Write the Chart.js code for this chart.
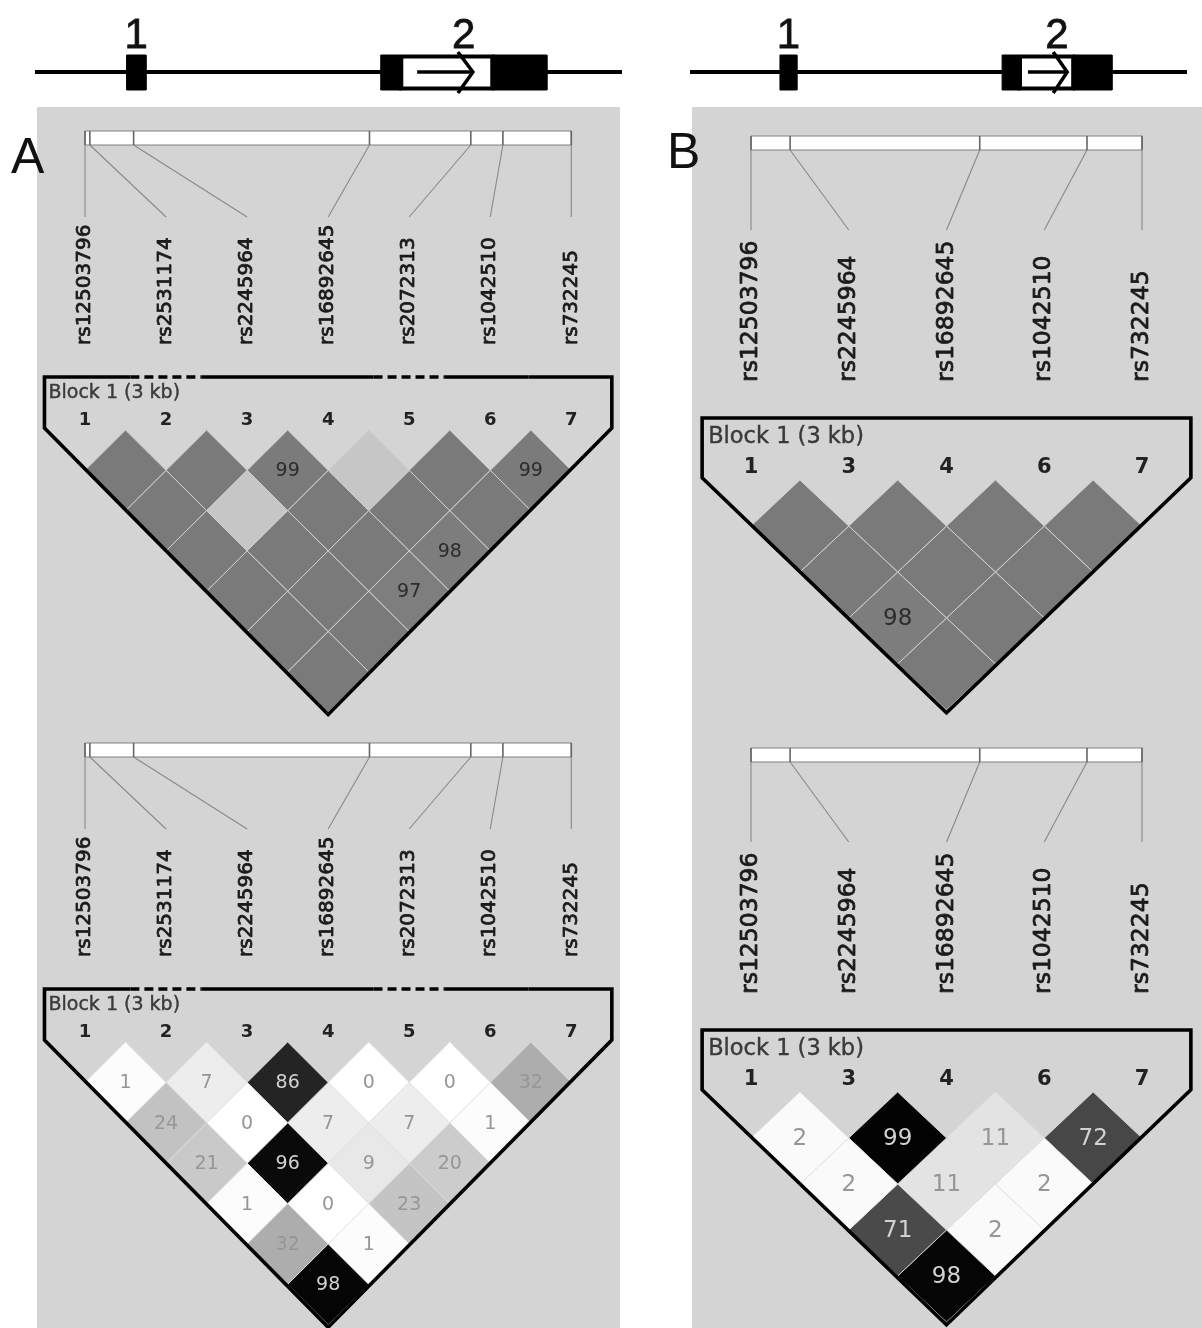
<!DOCTYPE html>
<html>
<head>
<meta charset="utf-8">
<title>LD plots</title>
<script src="https://cdn.jsdelivr.net/npm/chart.js@4.4.1/dist/chart.umd.min.js"></script>
<style>
  html, body { margin: 0; padding: 0; background: #fff; width: 1202px; height: 1328px; overflow: hidden; }
  body { position: relative; }
  .panel { position: absolute; background: #d4d4d4; }
  canvas { position: absolute; }
  .tag { position: absolute; font-family: "Liberation Sans", Arial, sans-serif; font-size: 50px; line-height: 1; color: #111; }
</style>
</head>
<body>
<div class="panel" style="left:37px;top:107px;width:583px;height:1221px"></div>
<div class="panel" style="left:692px;top:107px;width:510px;height:1221px"></div>
<canvas id="geneA"></canvas>
<canvas id="geneB"></canvas>
<canvas id="ldA1"></canvas>
<canvas id="ldA2"></canvas>
<canvas id="ldB1"></canvas>
<canvas id="ldB2"></canvas>
<div class="tag" style="left:11px;top:131px">A</div>
<div class="tag" style="left:667px;top:126px">B</div>
<script>
// ---- markers (panel A: all seven SNPs; panel B: five of them) ----
const markerNamesA = ['rs12503796', 'rs2531174', 'rs2245964', 'rs16892645', 'rs2072313', 'rs1042510', 'rs732245'];
const markerNumsA  = ['1', '2', '3', '4', '5', '6', '7'];
const markerPosA   = [0, 30, 300, 1755, 2380, 2578, 3000];   // bp from first SNP
const markerNamesB = ['rs12503796', 'rs2245964', 'rs16892645', 'rs1042510', 'rs732245'];
const markerNumsB  = ['1', '3', '4', '6', '7'];
const markerPosB   = [0, 300, 1755, 2578, 3000];
const blockLabel = 'Block 1 (3 kb)';
const dashedMarkersA = [2, 5];   // markers drawn outside the block outline
const dashedMarkersB = [];

// ---- pairwise LD; row i holds the pairs (i, i+1 .. n) ----
const dPrimeA = [
  [100, 100, 100, 100, 100, 100],
  [100, 100, 100, 100, 100],
  [99, 100, 100, 97],
  [100, 100, 98],
  [100, 100],
  [99]
];
const lowLodA = [[2, 4], [4, 5]];
const r2A = [
  [1, 24, 21, 1, 32, 98],
  [7, 0, 96, 0, 1],
  [86, 7, 9, 23],
  [0, 7, 20],
  [0, 1],
  [32]
];
const dPrimeB = [
  [100, 100, 98, 100],
  [100, 100, 100],
  [100, 100],
  [100]
];
const lowLodB = [];
const r2B = [
  [2, 2, 71, 98],
  [99, 11, 2],
  [11, 2],
  [72]
];

// ---- gene model (relative units along the drawn span, 0-100) ----
const exonNames = ['1', '2'];
const geneAExon1 = [15.6, 18.9];
const geneAExon2 = [58.9, 62.4, 77.9, 87.2];   // coding start, UTR start, UTR end, end
const geneAArrow = [65.1, 74.6];
const geneBExon1 = [18.1, 21.5];
const geneBExon2 = [62.8, 66.4, 77.1, 84.9];
const geneBArrow = [68.0, 75.9];

// ---- layout ----
const geneLayoutA = { left: 0, width: 640, height: 107, lineFrom: 35, lineTo: 622, y: 72, boxTop: 55, boxBot: 90, chevTop: 52, chevBot: 93, chevArm: 15, labelBase: 48, font: 42 };
const geneLayoutB = { left: 660, width: 542, height: 107, lineFrom: 690, lineTo: 1187, y: 72, boxTop: 55, boxBot: 90, chevTop: 52, chevBot: 93, chevArm: 14, labelBase: 48, font: 42 };
const fsA = { label: 20, num: 18, block: 19, cell: 19 };
const fsB = { label: 23.5, num: 21, block: 22.5, cell: 23 };
const layoutA1 = { left: 37, top: 107, width: 583, height: 612, x1: 85, dx: 81.05, barTop: 131, barBot: 145, lineEnd: 217, labelBase: 345, outlineTop: 377, blockY: 393, blockPad: 4, numY: 420, triTop: 430, h: 40.3, fs: fsA };
const layoutA2 = { left: 37, top: 719, width: 583, height: 609, x1: 85, dx: 81.05, barTop: 743, barBot: 757, lineEnd: 829, labelBase: 957, outlineTop: 989, blockY: 1005, blockPad: 4, numY: 1032, triTop: 1042, h: 40.4, fs: fsA };
const layoutB1 = { left: 692, top: 107, width: 510, height: 612, x1: 751, dx: 97.75, barTop: 136, barBot: 150, lineEnd: 230, labelBase: 382, outlineTop: 418, blockY: 437, blockPad: 6, numY: 468, triTop: 480, h: 46, fs: fsB };
const layoutB2 = { left: 692, top: 719, width: 510, height: 609, x1: 751, dx: 97.75, barTop: 748, barBot: 762, lineEnd: 842, labelBase: 994, outlineTop: 1030, blockY: 1049, blockPad: 6, numY: 1080, triTop: 1092, h: 46, fs: fsB };

const FONT = '"DejaVu Sans", Verdana, sans-serif';

function rect(x0, x1, y0, y1) {
  return [{ x: x0, y: y0 }, { x: x1, y: y0 }, { x: x1, y: y1 }, { x: x0, y: y1 }, { x: x0, y: y0 }];
}

function placeCanvas(id, left, top, width, height) {
  const cv = document.getElementById(id);
  cv.width = width; cv.height = height;
  cv.style.left = left + 'px'; cv.style.top = top + 'px';
  cv.style.width = width + 'px'; cv.style.height = height + 'px';
  return cv;
}

function baseOptions(scales) {
  return {
    responsive: false, animation: false, devicePixelRatio: 1, events: [],
    layout: { padding: 0 },
    plugins: { legend: { display: false }, tooltip: { enabled: false } },
    elements: { point: { radius: 0, hoverRadius: 0 }, line: { tension: 0 } },
    scales
  };
}

// filled text with a thin outline of the same colour for a heavier stroke
function heavyText(ctx, t, x, y, w) {
  ctx.fillText(t, x, y);
  if (w) { ctx.lineWidth = w; ctx.strokeStyle = ctx.fillStyle; ctx.strokeText(t, x, y); }
}

// One linkage-disequilibrium block: marker bar, SNP names and the triangle of pairwise cells
function ldChart(id, L, names, nums, pos, values, kind, lowLod, dashedMarkers) {
  const cv = placeCanvas(id, L.left, L.top, L.width, L.height);
  const n = names.length;
  const x1 = L.x1 - L.left;
  const xMin = 1 - x1 / L.dx, xMax = 1 + (L.width - x1) / L.dx;
  const tri = L.triTop - L.top;
  const ydMin = -tri / L.h, ydMax = (L.height - tri) / L.h;
  const loc = v => v - L.top;
  const span = pos[n - 1] - pos[0];
  const posIdx = p => 1 + (n - 1) * (p - pos[0]) / span;
  const datasets = [];
  const cells = [];

  values.forEach((row, r) => row.forEach((v, c) => {
    const i = r + 1, j = i + 1 + c, cx = (i + j) / 2, d = j - i;
    let g, label, txt;
    if (kind === 'r2') {
      g = Math.round(255 * (1 - v / 100));
      label = String(v);
      txt = g < 110 ? '#d2d2d2' : '#969696';
    } else {
      const strong = !lowLod.some(p => p[0] === i && p[1] === j);
      g = strong ? Math.round(122 + (1 - v / 100) * (255 - 122)) : 198;
      label = v < 100 ? String(v) : '';
      txt = '#2c2c2c';
    }
    datasets.push({
      data: [{ x: cx - 0.5, y: d }, { x: cx, y: d - 1 }, { x: cx + 0.5, y: d }, { x: cx, y: d + 1 }, { x: cx - 0.5, y: d }],
      yAxisID: 'yd', fill: 'shape', backgroundColor: `rgb(${g},${g},${g})`,
      borderColor: kind === 'r2' ? 'rgba(222,222,222,0.8)' : '#d0d0d0', borderWidth: 1, order: 20
    });
    cells.push({ cx, d, label, txt });
  }));

  // marker position bar
  datasets.push({ data: rect(1, n, loc(L.barTop), loc(L.barBot)), yAxisID: 'y', fill: 'shape',
    backgroundColor: '#ffffff', borderColor: '#808080', borderWidth: 1.2, order: 15 });
  pos.forEach((p, k) => {
    const xp = posIdx(p);
    datasets.push({ data: [{ x: xp, y: loc(L.barTop) }, { x: xp, y: loc(L.barBot) }], yAxisID: 'y',
      fill: false, borderColor: '#666', borderWidth: 1.6, order: 14 });
    datasets.push({ data: [{ x: xp, y: loc(L.barBot) }, { x: k + 1, y: loc(L.lineEnd) }], yAxisID: 'y',
      fill: false, borderColor: '#888', borderWidth: 1.1, order: 14 });
  });

  // block outline
  const yTop = (L.outlineTop - L.triTop) / L.h, ySide = -0.05, yBot = n + 0.06;
  const xl = 0.5, xr = n + 0.5, xc = (n + 1) / 2;
  const gaps = dashedMarkers.map(k => [k - 0.44, k + 0.44]);
  const lastEnd = gaps.length ? gaps[gaps.length - 1][1] : xl;
  const sMid = (lastEnd + xr) / 2;
  const pts = [{ x: sMid, y: yTop }, { x: xr, y: yTop }, { x: xr, y: ySide }, { x: xc, y: yBot }, { x: xl, y: ySide }, { x: xl, y: yTop }];
  const dashIdx = new Set();
  gaps.forEach(([a, b]) => { pts.push({ x: a, y: yTop }); dashIdx.add(pts.length - 1); pts.push({ x: b, y: yTop }); });
  pts.push({ x: sMid, y: yTop });
  datasets.push({ data: pts, yAxisID: 'yd', fill: false, borderColor: '#000', borderWidth: 3.6,
    borderJoinStyle: 'miter', order: 1, clip: false,
    segment: { borderDash: c => dashIdx.has(c.p0DataIndex) ? [9, 5] : undefined } });

  const textPlugin = {
    id: 'ldText',
    afterDatasetsDraw(chart) {
      const { ctx } = chart;
      const sx = chart.scales.x, sy = chart.scales.y, sd = chart.scales.yd;
      ctx.save();
      ctx.lineJoin = 'round';
      // SNP names, reading upwards
      ctx.fillStyle = '#1a1a1a';
      ctx.font = `${L.fs.label}px ${FONT}`;
      ctx.textAlign = 'left'; ctx.textBaseline = 'middle';
      names.forEach((nm, k) => {
        ctx.save();
        ctx.translate(sx.getPixelForValue(k + 1), sy.getPixelForValue(loc(L.labelBase)));
        ctx.rotate(-Math.PI / 2);
        heavyText(ctx, nm, 0, 0, 0.8);
        ctx.restore();
      });
      // block caption
      ctx.fillStyle = '#3a3a3a';
      ctx.font = `${L.fs.block}px ${FONT}`;
      heavyText(ctx, blockLabel, sx.getPixelForValue(xl) + L.blockPad, sy.getPixelForValue(loc(L.blockY)), 0.4);
      // marker numbers
      ctx.fillStyle = '#222';
      ctx.font = `bold ${L.fs.num}px ${FONT}`;
      ctx.textAlign = 'center';
      nums.forEach((t, k) => ctx.fillText(t, sx.getPixelForValue(k + 1), sy.getPixelForValue(loc(L.numY))));
      // cell values
      ctx.font = `${L.fs.cell}px ${FONT}`;
      cells.forEach(c => {
        if (!c.label) return;
        ctx.fillStyle = c.txt;
        ctx.fillText(c.label, sx.getPixelForValue(c.cx), sd.getPixelForValue(c.d) + 1);
      });
      ctx.restore();
    }
  };

  return new Chart(cv, {
    type: 'line',
    data: { datasets },
    options: baseOptions({
      x: { type: 'linear', min: xMin, max: xMax, display: false },
      y: { type: 'linear', min: 0, max: L.height, reverse: true, display: false },
      yd: { type: 'linear', min: ydMin, max: ydMax, reverse: true, display: false }
    }),
    plugins: [textPlugin]
  });
}

// Gene model: backbone, exon 1, exon 2 with UTR box and transcription arrow
function geneChart(id, G, exon1, exon2, arrow) {
  const cv = placeCanvas(id, G.left, 0, G.width, G.height);
  const k = (G.lineTo - G.lineFrom) / 100;
  const xMin = (G.left - G.lineFrom) / k, xMax = (G.left + G.width - G.lineFrom) / k;
  const arm = G.chevArm / k;
  const black = { fill: 'shape', backgroundColor: '#000', borderColor: '#000', borderWidth: 1 };
  const datasets = [
    { data: [{ x: 0, y: G.y }, { x: 100, y: G.y }], fill: false, borderColor: '#000', borderWidth: 4, order: 10 },
    Object.assign({ data: rect(exon1[0], exon1[1], G.boxTop, G.boxBot), order: 5 }, black),
    { data: rect(exon2[1], exon2[2], G.boxTop + 1.5, G.boxBot - 1.5), fill: 'shape', backgroundColor: '#fff',
      borderColor: '#000', borderWidth: 4, borderJoinStyle: 'miter', order: 6 },
    Object.assign({ data: rect(exon2[0], exon2[1], G.boxTop, G.boxBot), order: 4 }, black),
    Object.assign({ data: rect(exon2[2], exon2[3], G.boxTop, G.boxBot), order: 4 }, black),
    { data: [{ x: arrow[0], y: G.y }, { x: arrow[1] - 0.2, y: G.y }], fill: false, borderColor: '#000', borderWidth: 3.5, order: 3 },
    { data: [{ x: arrow[1] - arm, y: G.chevTop }, { x: arrow[1], y: G.y }, { x: arrow[1] - arm, y: G.chevBot }],
      fill: false, borderColor: '#000', borderWidth: 3.5, borderJoinStyle: 'miter', order: 3 }
  ];
  const centers = [(exon1[0] + exon1[1]) / 2, (exon2[0] + exon2[3]) / 2];
  const labelPlugin = {
    id: 'exonLabels',
    afterDatasetsDraw(chart) {
      const { ctx } = chart;
      ctx.save();
      ctx.fillStyle = '#111';
      ctx.font = `${G.font}px "Liberation Sans", Arial, sans-serif`;
      ctx.textAlign = 'center'; ctx.textBaseline = 'alphabetic';
      exonNames.forEach((t, i) => heavyText(ctx, t, chart.scales.x.getPixelForValue(centers[i]), chart.scales.y.getPixelForValue(G.labelBase), 0.8));
      ctx.restore();
    }
  };
  return new Chart(cv, {
    type: 'line',
    data: { datasets },
    options: baseOptions({
      x: { type: 'linear', min: xMin, max: xMax, display: false },
      y: { type: 'linear', min: 0, max: G.height, reverse: true, display: false }
    }),
    plugins: [labelPlugin]
  });
}

geneChart('geneA', geneLayoutA, geneAExon1, geneAExon2, geneAArrow);
geneChart('geneB', geneLayoutB, geneBExon1, geneBExon2, geneBArrow);
ldChart('ldA1', layoutA1, markerNamesA, markerNumsA, markerPosA, dPrimeA, 'dprime', lowLodA, dashedMarkersA);
ldChart('ldA2', layoutA2, markerNamesA, markerNumsA, markerPosA, r2A, 'r2', [], dashedMarkersA);
ldChart('ldB1', layoutB1, markerNamesB, markerNumsB, markerPosB, dPrimeB, 'dprime', lowLodB, dashedMarkersB);
ldChart('ldB2', layoutB2, markerNamesB, markerNumsB, markerPosB, r2B, 'r2', [], dashedMarkersB);
</script>
</body>
</html>
